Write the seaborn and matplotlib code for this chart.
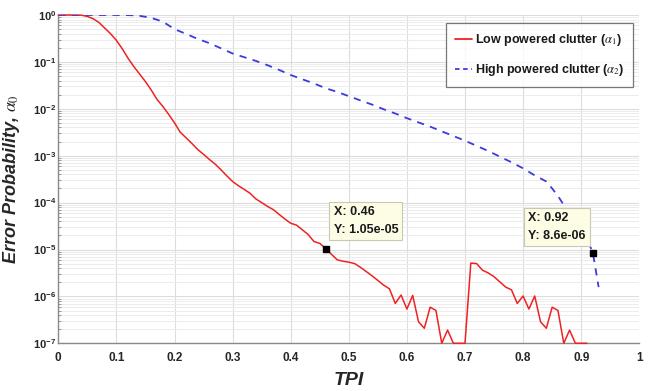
import numpy as np
import pandas as pd
import matplotlib
matplotlib.use("Agg")
import matplotlib.pyplot as plt
import matplotlib.ticker as mticker
from matplotlib.lines import Line2D
import seaborn as sns

# ---------------- data ----------------
tpi_low = [round(0.01 * i, 2) for i in range(92)]
alpha_low = [
    1.0, 1.0, 1.0, 1.0, 0.989, 0.933, 0.832, 0.692, 0.525, 0.398,
    0.288, 0.191, 0.120, 7.94e-2, 5.50e-2, 3.80e-2, 2.51e-2, 1.58e-2, 1.12e-2, 7.59e-3,
    5.01e-3, 3.16e-3, 2.40e-3, 1.82e-3, 1.35e-3, 1.07e-3, 8.32e-4, 6.61e-4, 5.01e-4, 3.72e-4,
    2.82e-4, 2.29e-4, 1.91e-4, 1.58e-4, 1.20e-4, 1.00e-4, 8.32e-5, 7.08e-5, 5.62e-5, 4.47e-5,
    3.63e-5, 3.31e-5, 2.63e-5, 2.09e-5, 1.48e-5, 1.35e-5, 1.05e-5, 7.94e-6, 6.03e-6, 5.62e-6,
    5.37e-6, 5.01e-6, 4.17e-6, 3.39e-6, 2.75e-6, 2.19e-6, 1.74e-6, 1.45e-6, 7.08e-7, 1.07e-6,
    5.37e-7, 1.05e-6, 2.88e-7, 2.09e-7, 5.89e-7, 5.01e-7, 1.0e-7, 1.91e-7, 1.0e-7, 1.0e-7,
    1.0e-7, 5.13e-6, 5.01e-6, 3.63e-6, 3.16e-6, 2.63e-6, 2.04e-6, 1.58e-6, 1.38e-6, 7.08e-7,
    1.02e-6, 5.37e-7, 1.02e-6, 2.88e-7, 2.09e-7, 5.89e-7, 5.01e-7, 1.0e-7, 1.91e-7, 1.0e-7,
    1.0e-7, 1.0e-7,
]
tpi_high = [0.0, 0.02, 0.04, 0.06, 0.08, 0.10, 0.12, 0.13, 0.14, 0.16, 0.18, 0.20, 0.22, 0.24,
            0.26, 0.28, 0.30, 0.32, 0.34, 0.36, 0.38, 0.40, 0.42, 0.44, 0.46, 0.48, 0.50,
            0.52, 0.54, 0.56, 0.58, 0.60, 0.62, 0.64, 0.66, 0.68, 0.70, 0.72, 0.74, 0.76,
            0.78, 0.80, 0.82, 0.84, 0.85, 0.86, 0.87, 0.88, 0.89, 0.90, 0.91, 0.92, 0.93]
alpha_high = [1.0, 1.0, 1.0, 1.0, 1.0, 1.0, 0.995, 0.985, 0.96, 0.87, 0.72, 0.50, 0.395, 0.309,
              0.251, 0.195, 0.151, 0.126, 0.105, 8.51e-2, 6.76e-2, 5.25e-2, 4.27e-2, 3.47e-2,
              2.75e-2, 2.29e-2, 1.86e-2, 1.51e-2, 1.23e-2, 9.77e-3, 7.94e-3, 6.31e-3, 5.13e-3,
              4.17e-3, 3.31e-3, 2.63e-3, 2.09e-3, 1.62e-3, 1.26e-3, 9.55e-4, 7.24e-4, 5.37e-4,
              3.80e-4, 2.82e-4, 2.00e-4, 1.38e-4, 8.91e-5, 5.62e-5, 3.80e-5, 2.69e-5, 1.66e-5,
              8.6e-6, 1.58e-6]

series_labels = [r"Low powered clutter ($\alpha_1$)", r"High powered clutter ($\alpha_2$)"]
tip_x = [0.46, 0.92]
tip_y = [1.05e-5, 8.6e-6]
tip_text = ["X: 0.46\nY: 1.05e-05", "X: 0.92\nY: 8.6e-06"]
x_ticks = [0, 0.1, 0.2, 0.3, 0.4, 0.5, 0.6, 0.7, 0.8, 0.9, 1]
x_tick_labels = ["0", "0.1", "0.2", "0.3", "0.4", "0.5", "0.6", "0.7", "0.8", "0.9", "1"]
y_exponents = [-7, -6, -5, -4, -3, -2, -1, 0]
x_label = "TPI"
y_label = r"Error Probability, $\alpha_0$"

# ---------------- style ----------------
sns.set_theme(style="white")
FONT = ["Liberation Sans", "DejaVu Sans"]
plt.rcParams["font.family"] = FONT
plt.rcParams["mathtext.fontset"] = "custom"
plt.rcParams["mathtext.rm"] = "Liberation Sans"
plt.rcParams["mathtext.bf"] = "Liberation Sans:bold"
plt.rcParams["mathtext.it"] = "Liberation Sans:italic"

fig = plt.figure(figsize=(6.57, 3.91), dpi=100)
ax = fig.add_axes([58.3 / 657, 1 - 343.3 / 391, 581 / 657, 328.3 / 391])

df_low = pd.DataFrame({"TPI": tpi_low, "alpha": alpha_low})
df_high = pd.DataFrame({"TPI": tpi_high, "alpha": alpha_high})

sns.lineplot(data=df_low, x="TPI", y="alpha", ax=ax, color="#ee2222", lw=1.1,
             clip_on=False, zorder=5, label=series_labels[0], legend=False)
sns.lineplot(data=df_high, x="TPI", y="alpha", ax=ax, color="#3b3be0", lw=1.3,
             linestyle=(0, (4, 3.5)), zorder=5, label=series_labels[1], legend=False)

ax.set_yscale("log")
ax.set_xlim(0, 1)
ax.set_ylim(1e-7, 1)

ax.set_xticks(x_ticks)
ax.set_xticklabels(x_tick_labels)
major_y = [10.0 ** e for e in y_exponents]
minor_y = [m * 10.0 ** e for e in y_exponents[:-1] for m in range(2, 10)]
ax.yaxis.set_major_locator(mticker.FixedLocator(major_y))
ax.yaxis.set_minor_locator(mticker.FixedLocator(minor_y))
ax.yaxis.set_major_formatter(mticker.FixedFormatter([r"$\mathbf{10^{%d}}$" % e for e in y_exponents]))
ax.yaxis.set_minor_formatter(mticker.NullFormatter())

ax.grid(True, which="major", axis="both", color="#dcdcdc", lw=0.8)
ax.grid(True, which="minor", axis="y", color="#ececec", lw=0.7)
ax.set_axisbelow(True)

for s in ["top", "right"]:
    ax.spines[s].set_visible(False)
for s in ["left", "bottom"]:
    ax.spines[s].set_color("#8a8a8a")
    ax.spines[s].set_linewidth(1.0)

ax.tick_params(axis="both", which="major", direction="in", length=5, width=0.8,
               color="#8a8a8a", labelsize=8.5, labelcolor="#262626")
ax.tick_params(axis="y", which="major", labelsize=8)
ax.tick_params(axis="y", which="minor", direction="in", length=2.5, width=0.6, color="#8a8a8a", left=True)
ax.tick_params(axis="x", pad=6)
ax.tick_params(axis="y", pad=1.5)
for lab in ax.get_xticklabels():
    lab.set_fontweight("bold")

ax.set_xlabel(x_label, fontsize=14, fontweight="bold", fontstyle="italic", color="#262626", labelpad=6)
ax.set_ylabel(y_label, fontsize=13, fontweight="bold", fontstyle="italic", color="#262626",
              labelpad=4, math_fontfamily="stix")
ax.yaxis.set_label_coords(-0.062, 0.5)

# data tips
for i, (tx, ty, tt) in enumerate(zip(tip_x, tip_y, tip_text)):
    ax.plot([tx], [ty], marker="s", ms=4, color="black", zorder=7, ls="none")
    off = (8, 13) if i == 0 else (-7, 11)
    ha = "left" if i == 0 else "right"
    ax.annotate(tt, xy=(tx, ty), xytext=off, textcoords="offset pixels", ha=ha, va="bottom",
                multialignment="left",
                fontsize=9, fontweight="bold", color="#1a1a1a", linespacing=1.65, zorder=8,
                bbox=dict(boxstyle="square,pad=0.33", fc="#fdfde6", ec="#c8c8b4", lw=0.8))

# legend
handles = [Line2D([], [], color="#ee2222", lw=1.3),
           Line2D([], [], color="#3b3be0", lw=1.3, linestyle=(0, (2.5, 2)))]
leg = ax.legend(handles, series_labels, loc="upper right", bbox_to_anchor=(0.99, 0.975),
                borderaxespad=0, frameon=True, fancybox=False,
                handlelength=1.4, handletextpad=0.25, labelspacing=1.15, borderpad=0.7,
                prop={"weight": "bold", "size": 9, "family": FONT})
leg.get_frame().set_edgecolor("#555555")
leg.get_frame().set_linewidth(0.9)
for t in leg.get_texts():
    t.set_math_fontfamily("stix")
    t.set_color("#1a1a1a")

fig.savefig("out.png", dpi=100)
